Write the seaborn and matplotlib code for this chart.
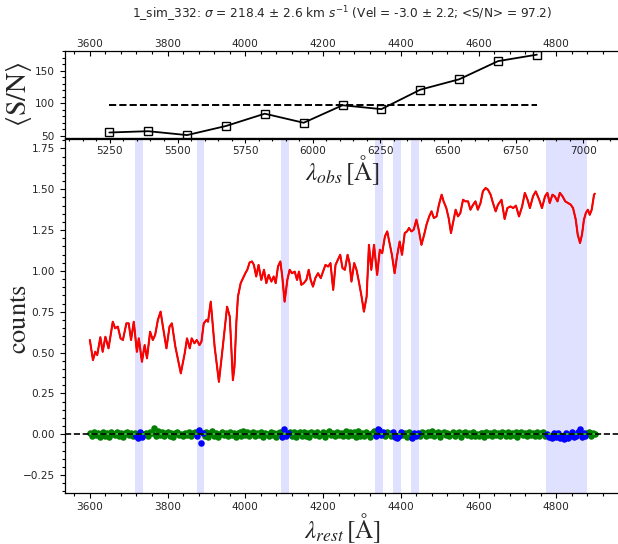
import numpy as np
import matplotlib
matplotlib.use("Agg")
import matplotlib.pyplot as plt
from matplotlib.ticker import AutoMinorLocator
import seaborn as sns

# ---------------- data ----------------
# best-fit / galaxy spectrum (rest wavelength, counts)
wave = [3600, 3608, 3614, 3619, 3627, 3633, 3640, 3648, 3659, 3665, 3672, 3679, 3685, 3694,
        3700, 3706, 3713, 3721, 3726, 3734, 3741, 3747, 3755, 3762, 3768, 3775, 3782, 3788,
        3797, 3805, 3811, 3820, 3834, 3844, 3850, 3857, 3862, 3869, 3875, 3882, 3887, 3893,
        3900, 3904, 3911, 3921, 3932, 3942, 3953, 3960, 3968, 3972, 3977, 3981, 3988, 3994,
        4000, 4005, 4011, 4017, 4022, 4028, 4034, 4041, 4048, 4054, 4060, 4067, 4073, 4078,
        4084, 4090, 4095, 4101, 4108, 4114, 4120, 4127, 4133, 4138, 4144, 4150, 4157, 4163,
        4168, 4174, 4180, 4187, 4194, 4200, 4206, 4213, 4219, 4226, 4232, 4238, 4244, 4250,
        4256, 4263, 4268, 4273, 4280, 4286, 4292, 4299, 4305, 4312, 4318, 4324, 4331, 4339,
        4346, 4352, 4359, 4365, 4371, 4377, 4384, 4390, 4397, 4403, 4410, 4416, 4421, 4427,
        4433, 4440, 4446, 4453, 4460, 4466, 4473, 4479, 4485, 4492, 4498, 4505, 4510, 4517,
        4523, 4529, 4534, 4541, 4547, 4553, 4560, 4566, 4573, 4579, 4586, 4592, 4598, 4605,
        4611, 4618, 4624, 4631, 4637, 4644, 4650, 4659, 4667, 4674, 4682, 4689, 4696, 4704,
        4712, 4719, 4726, 4732, 4740, 4747, 4756, 4763, 4771, 4777, 4783, 4790, 4796, 4803,
        4809, 4816, 4823, 4830, 4837, 4843, 4850, 4855, 4861, 4866, 4871, 4876, 4881, 4886,
        4891, 4897, 4899]
bestfit = [0.577, 0.454, 0.505, 0.485, 0.594, 0.505, 0.597, 0.526, 0.689, 0.649, 0.659, 0.587, 0.577, 0.679,
           0.679, 0.577, 0.689, 0.505, 0.587, 0.444, 0.546, 0.465, 0.628, 0.577, 0.608, 0.700, 0.751, 0.659,
           0.526, 0.659, 0.679, 0.536, 0.373, 0.495, 0.587, 0.526, 0.587, 0.557, 0.577, 0.546, 0.567, 0.679,
           0.700, 0.689, 0.812, 0.536, 0.321, 0.536, 0.781, 0.720, 0.331, 0.413, 0.690, 0.843, 0.925, 0.956,
           0.986, 1.007, 1.052, 1.058, 1.037, 0.966, 1.037, 0.945, 1.007, 0.925, 0.976, 0.935, 0.966, 0.925,
           1.027, 1.058, 0.966, 0.812, 0.945, 1.007, 0.986, 0.996, 0.945, 0.996, 0.915, 0.925, 0.945, 1.007,
           0.945, 0.904, 0.956, 0.986, 0.956, 0.996, 1.037, 1.027, 1.048, 0.884, 1.037, 1.068, 1.099, 1.017,
           1.007, 1.099, 1.048, 0.935, 1.048, 1.007, 0.935, 0.843, 0.751, 0.843, 1.160, 1.007, 1.160, 0.976,
           1.130, 1.109, 1.211, 1.242, 1.171, 1.099, 0.986, 1.088, 1.180, 1.099, 1.232, 1.242, 1.263, 1.242,
           1.252, 1.314, 1.252, 1.160, 1.222, 1.283, 1.334, 1.365, 1.324, 1.334, 1.406, 1.467, 1.426, 1.385,
           1.324, 1.232, 1.293, 1.375, 1.334, 1.354, 1.436, 1.426, 1.426, 1.375, 1.406, 1.426, 1.375, 1.416,
           1.487, 1.508, 1.498, 1.467, 1.416, 1.365, 1.406, 1.436, 1.318, 1.385, 1.395, 1.385, 1.400, 1.334,
           1.395, 1.478, 1.436, 1.385, 1.457, 1.487, 1.436, 1.385, 1.457, 1.478, 1.416, 1.467, 1.457, 1.426,
           1.478, 1.457, 1.426, 1.416, 1.406, 1.385, 1.314, 1.222, 1.171, 1.222, 1.314, 1.355, 1.375, 1.344,
           1.375, 1.467, 1.473]

# residual pixels (5 A sampling, 3600-4900)
res_wave = np.arange(3600, 4905, 5)
residual = [
    0.008, -0.012, 0.015, -0.005, 0.010, -0.018, 0.004, 0.012, -0.009, 0.006,
    -0.014, 0.011, 0.002, -0.007, 0.016, -0.010, 0.005, -0.016, 0.009, 0.013,
    -0.004, 0.007, -0.013, 0.010, -0.008, -0.020, 0.012, -0.015, 0.003, 0.009,
    -0.011, 0.014, 0.006, 0.040, -0.009, 0.018, -0.006, 0.011, -0.013, 0.008,
    0.012, -0.010, 0.005, -0.015, 0.009, 0.016, -0.007, 0.003, -0.012, 0.010,
    -0.006, 0.013, -0.011, 0.007, 0.015, -0.012, 0.025, -0.055, 0.008, -0.010,
    0.011, -0.014, 0.006, 0.017, -0.008, 0.009, -0.016, 0.004, 0.013, -0.006,
    0.008, -0.011, 0.015, -0.004, 0.010, -0.017, 0.006, 0.012, -0.009, 0.018,
    -0.007, 0.011, -0.013, 0.005, 0.016, -0.010, 0.008, -0.005, 0.013, -0.015,
    0.009, 0.003, -0.012, 0.014, -0.006, 0.010, -0.016, 0.007, 0.012, -0.018,
    0.030, -0.012, 0.008, 0.015, -0.009, 0.011, -0.014, 0.006, 0.013, -0.008,
    0.016, -0.011, 0.005, -0.017, 0.012, 0.008, -0.006, 0.014, -0.010, 0.004,
    0.011, -0.015, 0.009, 0.017, -0.007, 0.006, -0.012, 0.015, -0.004, 0.010,
    -0.013, 0.008, 0.019, -0.009, 0.012, -0.005, 0.016, -0.014, 0.021, -0.008,
    0.010, -0.012, 0.014, 0.004, -0.016, 0.009, 0.018, -0.010, 0.035, 0.026,
    -0.006, 0.012, -0.009, 0.015, 0.007, -0.013, 0.011, -0.018, -0.024, -0.008,
    0.013, -0.005, 0.009, -0.014, 0.016, -0.008, -0.026, 0.006, -0.012, 0.008,
    -0.010, 0.014, 0.005, -0.013, 0.011, -0.006, 0.017, -0.009, 0.007, 0.012,
    -0.014, 0.008, 0.015, -0.007, 0.010, -0.012, 0.004, 0.013, -0.009, 0.006,
    0.011, -0.016, 0.007, 0.014, -0.005, 0.009, -0.011, 0.016, -0.008, 0.003,
    -0.012, 0.010, 0.006, -0.015, 0.013, -0.004, 0.008, -0.010, 0.015, -0.007,
    0.009, -0.013, 0.012, 0.005, -0.009, 0.014, -0.011, 0.007, -0.006, 0.011,
    -0.015, 0.008, 0.013, -0.007, 0.010, -0.012, 0.016, -0.005, 0.009, -0.010,
    0.012, -0.008, 0.006, 0.014, -0.011, 0.004, -0.018, -0.009, -0.022, 0.010,
    -0.015, 0.008, -0.020, -0.012, -0.030, 0.006, -0.025, -0.010, 0.012, -0.018,
    -0.008, 0.015, 0.035, -0.014, 0.010, -0.012, 0.006, 0.013, -0.009, 0.008,
    0.004]

# masked (excluded) rest-frame regions
mask_lo = [3717, 3875, 4093, 4333, 4380, 4426, 4774]
mask_hi = [3737, 3893, 4113, 4355, 4400, 4446, 4879]

# S/N per bin
sn_wave = [3650, 3750, 3850, 3950, 4050, 4150, 4250, 4350, 4450, 4550, 4650, 4750]
sn_vals = [55, 57, 51, 65, 84, 70, 97, 91, 121, 137, 165, 175]
sn_mean = 97.2
redshift = 0.4377

rest_ticks = [3600, 3800, 4000, 4200, 4400, 4600, 4800]
obs_ticks = [5250, 5500, 5750, 6000, 6250, 6500, 6750, 7000]
title = ("1_sim_332: $\\sigma$ = 218.4 \u00b1 2.6 km $s^{-1}$ "
         "(Vel = -3.0 \u00b1 2.2; <S/N> = 97.2)")

# ---------------- style ----------------
sns.set_style("ticks")
plt.rcParams["font.family"] = ["DejaVu Sans"]
plt.rcParams["mathtext.fontset"] = "dejavusans"
TICK_FS = 7.6
LAB_FS = 18

fig = plt.figure(figsize=(6.18, 5.44), dpi=100)
ax = fig.add_axes([0.1045, 0.0943, 0.8995, 0.6502])
ax_sn = fig.add_axes([0.1045, 0.7463, 0.8995, 0.1604])

res_wave = np.asarray(res_wave)
residual = np.asarray(residual)
masked = np.zeros(res_wave.size, dtype=bool)
for lo, hi in zip(mask_lo, mask_hi):
    ax.axvspan(lo, hi, color="blue", alpha=0.12, lw=0, zorder=0)
    masked |= (res_wave >= lo) & (res_wave <= hi)

# galaxy (black) + bestfit (red)
sns.lineplot(x=wave, y=bestfit, ax=ax, color="black", lw=1.0, sort=False,
             estimator=None, zorder=2)
sns.lineplot(x=wave, y=bestfit, ax=ax, color="red", lw=1.5, sort=False,
             estimator=None, zorder=3)

# residuals
sns.scatterplot(x=res_wave[~masked], y=residual[~masked], ax=ax, color="green",
                s=22, linewidth=0, zorder=3)
sns.scatterplot(x=res_wave[masked], y=residual[masked], ax=ax, color="blue",
                s=22, linewidth=0, zorder=3)
ax.plot([res_wave[0], res_wave[-1]], [0, 0], color="limegreen", lw=1.2, zorder=3.5)
ax.axhline(0, color="black", ls="--", lw=1.2, zorder=4)

ax.set_xlim(3535, 4965)
ax.set_ylim(-0.358, 1.808)
ax.set_xticks(rest_ticks)
ax.set_yticks([-0.25, 0.0, 0.25, 0.5, 0.75, 1.0, 1.25, 1.5, 1.75])
ax.xaxis.set_minor_locator(AutoMinorLocator(5))
ax.yaxis.set_minor_locator(AutoMinorLocator(5))
ax.tick_params(which="both", direction="out", labelsize=TICK_FS, top=False, right=False,
               color="black", width=0.8)
ax.tick_params(which="major", length=3.5)
ax.tick_params(which="minor", length=2)
for s in ax.spines.values():
    s.set_color("black")
    s.set_linewidth(0.9)
ax.set_xlabel(r"$\lambda_{rest}\,[\mathrm{\AA}]$", fontsize=LAB_FS, math_fontfamily="stix",
              labelpad=-1)
ax.set_ylabel(r"$\mathrm{counts}$", fontsize=LAB_FS + 1, math_fontfamily="stix")
ax.yaxis.set_label_coords(-0.058, 0.49)
ax.set_facecolor("white")

# S/N panel
sns.lineplot(x=sn_wave, y=sn_vals, ax=ax_sn, color="black", lw=1.3, marker="s",
             mfc="none", mec="black", ms=6, mew=1.0, sort=False, estimator=None)
ax_sn.plot([sn_wave[0], sn_wave[-1]], [sn_mean, sn_mean], color="black", ls="--", lw=1.4)
ax_sn.set_xlim(3535, 4965)
ax_sn.set_ylim(46.5, 181)
ax_sn.set_yticks([50, 100, 150])
ax_sn.set_xticks(rest_ticks)
ax_sn.xaxis.tick_top()
ax_sn.xaxis.set_minor_locator(AutoMinorLocator(5))
ax_sn.yaxis.set_minor_locator(AutoMinorLocator(5))
ax_sn.tick_params(which="both", direction="out", labelsize=TICK_FS, right=False,
                  color="black", width=0.8)
ax_sn.tick_params(axis="x", which="both", direction="in", pad=1)
ax_sn.tick_params(which="major", length=3.5)
ax_sn.tick_params(which="minor", length=2)
for s in ax_sn.spines.values():
    s.set_color("black")
    s.set_linewidth(0.9)
ax_sn.set_ylabel(r"$\langle\mathrm{S/N}\rangle$", fontsize=LAB_FS + 2, math_fontfamily="stix")
ax_sn.yaxis.set_label_coords(-0.055, 0.5)

zp1 = 1 + redshift
sec = ax_sn.secondary_xaxis("bottom", functions=(lambda x: x * zp1, lambda x: x / zp1))
sec.set_xticks(obs_ticks)
sec.xaxis.set_minor_locator(AutoMinorLocator(5))
sec.tick_params(which="both", direction="out", labelsize=TICK_FS, color="black", width=0.8,
                pad=2)
sec.tick_params(which="major", length=3.5)
sec.tick_params(which="minor", length=2)
sec.set_xlabel(r"$\lambda_{obs}\,[\mathrm{\AA}]$", fontsize=LAB_FS, math_fontfamily="stix",
               labelpad=-1.5)

ax_sn.set_title(title, fontsize=8.7, pad=23)

fig.savefig("out.png", dpi=100)
